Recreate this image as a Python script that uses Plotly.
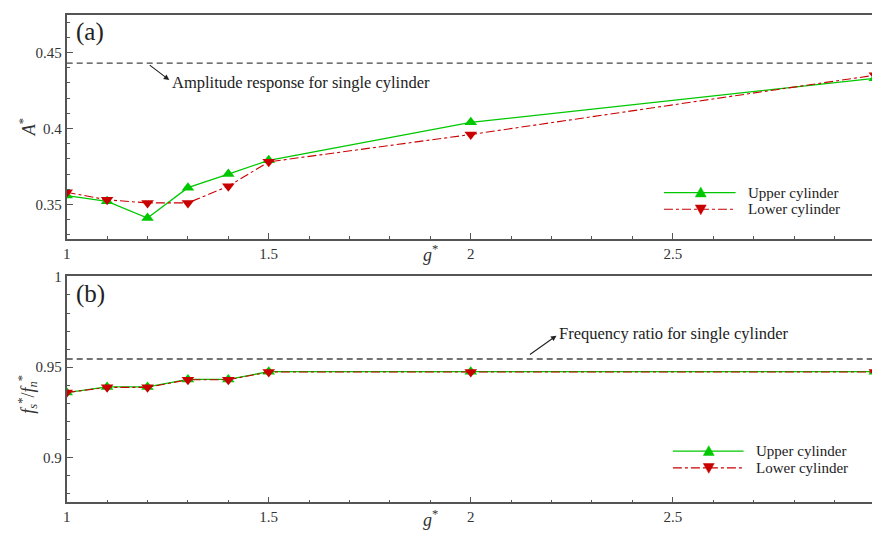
import plotly.graph_objects as go

g_star = [1.0, 1.1, 1.2, 1.3, 1.4, 1.5, 2.0, 3.0]
upper_A = [0.3558, 0.352, 0.341, 0.361, 0.370, 0.379, 0.404, 0.433]
lower_A = [0.358, 0.353, 0.351, 0.351, 0.362, 0.378, 0.396, 0.435]
upper_f = [0.9359, 0.9390, 0.9390, 0.9432, 0.9432, 0.9475, 0.9475, 0.9475]
lower_f = [0.9359, 0.9388, 0.9388, 0.9430, 0.9430, 0.9473, 0.9473, 0.9473]
single_A = 0.443
single_f = 0.9545
series_names = ["Upper cylinder", "Lower cylinder"]

FONT = "Liberation Serif"
GREEN = "rgb(0,200,0)"
RED = "rgb(200,0,0)"
AX = "#555555"

W, H = 872, 533
def px(v): return v / W
def py(v): return 1 - v / H

fig = go.Figure()

for i, (ya, yu, yl) in enumerate([("y", upper_A, lower_A), ("y2", upper_f, lower_f)]):
    xa = "x" if i == 0 else "x2"
    fig.add_trace(go.Scatter(x=g_star, y=yu, xaxis=xa, yaxis=ya, mode="lines+markers",
                             name=series_names[0], showlegend=False,
                             line=dict(color=GREEN, width=1.3),
                             marker=dict(symbol="triangle-up", size=11, color=GREEN)))
    fig.add_trace(go.Scatter(x=g_star, y=yl, xaxis=xa, yaxis=ya, mode="lines+markers",
                             name=series_names[1], showlegend=False,
                             line=dict(color=RED, width=1.1, dash="dashdot"),
                             marker=dict(symbol="triangle-down", size=11, color=RED)))

xcommon = dict(range=[1, 2.993], tickvals=[1, 1.5, 2, 2.5, 3], ticktext=["1", "1.5", "2", "2.5", "3"],
               ticks="inside", ticklen=6, tickcolor=AX, showline=True, linecolor=AX, linewidth=1.8,
               mirror=True, showgrid=False, zeroline=False,
               minor=dict(dtick=0.1, ticks="inside", ticklen=3, tickcolor=AX),
               tickfont=dict(family=FONT, size=15, color="#333"))
ycommon = dict(ticks="inside", ticklen=6, tickcolor=AX, showline=True, linecolor=AX, linewidth=1.8,
               showgrid=False, zeroline=False,
               minor=dict(dtick=0.01, ticks="inside", ticklen=3, tickcolor=AX),
               tickfont=dict(family=FONT, size=15, color="#333"))

fig.update_layout(
    width=W, height=H, margin=dict(l=0, r=0, t=0, b=0),
    plot_bgcolor="white", paper_bgcolor="white", showlegend=False,
    font=dict(family=FONT),
    xaxis=dict(domain=[px(63), 1], anchor="y", **xcommon),
    yaxis=dict(domain=[py(235), py(8)], anchor="x", range=[0.3273, 0.4747],
               tickvals=[0.35, 0.4, 0.45], ticktext=["0.35", "0.4", "0.45"], **ycommon),
    xaxis2=dict(domain=[px(63), 1], anchor="y2", **xcommon),
    yaxis2=dict(domain=[py(502), py(273)], anchor="x2", range=[0.875, 1.0003],
                tickvals=[0.9, 0.95, 1.0], ticktext=["0.9", "0.95", "1"], **ycommon),
)

fig.add_shape(type="line", xref="x", yref="y", x0=1, x1=3, y0=single_A, y1=single_A,
              line=dict(color="#444", width=1.3, dash="6px,4px"))
fig.add_shape(type="line", xref="x2", yref="y2", x0=1, x1=3, y0=single_f, y1=single_f,
              line=dict(color="#444", width=1.3, dash="6px,4px"))

ann = []

# manual legends (key line, key marker, label)
def legend_block(x0, x1, xm, xt, ys):
    styles = [(GREEN, "solid", 1.3, "up"), (RED, "dashdot", 1.1, "down")]
    for (col, dash, lw, tri), yy, name in zip(styles, ys, series_names):
        fig.add_shape(type="line", xref="paper", yref="paper", x0=px(x0), x1=px(x1),
                      y0=py(yy), y1=py(yy), line=dict(color=col, width=lw, dash=dash))
        s = 5.5
        if tri == "up":
            pts = [(xm - s, yy + s * 0.8), (xm + s, yy + s * 0.8), (xm, yy - s * 1.0)]
        else:
            pts = [(xm - s, yy - s * 0.8), (xm + s, yy - s * 0.8), (xm, yy + s * 1.0)]
        path = "M " + " L ".join(f"{px(a):.5f},{py(b):.5f}" for a, b in pts) + " Z"
        fig.add_shape(type="path", xref="paper", yref="paper", path=path,
                      fillcolor=col, line=dict(color=col, width=0.5))
        ann.append(dict(xref="paper", yref="paper", x=px(xt), y=py(yy), xanchor="left",
                        yanchor="middle", text=name, showarrow=False, borderpad=0,
                        font=dict(family=FONT, size=15, color="#222")))

legend_block(663, 735, 700, 746, [188, 205])
legend_block(672, 743, 708, 754, [450, 467])

ann.append(dict(xref="paper", yref="paper", x=px(167), y=py(77), xanchor="left", yanchor="middle",
                text="Amplitude response for single cylinder", showarrow=False,
                font=dict(family=FONT, size=16.5, color="#222")))
ann.append(dict(xref="paper", yref="paper", x=px(556), y=py(331), xanchor="left", yanchor="middle",
                text="Frequency ratio for single cylinder", showarrow=False,
                font=dict(family=FONT, size=16.5, color="#222")))
ann.append(dict(xref="paper", yref="paper", x=px(166), y=py(74), text="", showarrow=True,
                ax=-21, ay=-16, arrowhead=2, arrowsize=1, arrowwidth=1.1,
                arrowcolor="#222", standoff=0))
ann.append(dict(xref="paper", yref="paper", x=px(555), y=py(333), text="", showarrow=True,
                ax=-28, ay=20, arrowhead=2, arrowsize=1, arrowwidth=1.1,
                arrowcolor="#222", standoff=0))
ann.append(dict(xref="paper", yref="paper", x=px(70), y=py(25), xanchor="left", yanchor="middle",
                text="(a)", showarrow=False, font=dict(family=FONT, size=25, color="#222")))
ann.append(dict(xref="paper", yref="paper", x=px(70), y=py(291), xanchor="left", yanchor="middle",
                text="(b)", showarrow=False, font=dict(family=FONT, size=25, color="#222")))
ann.append(dict(xref="paper", yref="paper", x=px(24), y=py(122), xanchor="center", yanchor="middle",
                text="<i>A</i><sup>*</sup>", textangle=-90, showarrow=False,
                font=dict(family=FONT, size=18, color="#333")))
ann.append(dict(xref="paper", yref="paper", x=px(24), y=py(392), xanchor="center", yanchor="middle",
                text="<i>f</i><sub><i>s</i></sub><sup>*</sup>/<i>f</i><sub><i>n</i></sub><sup>*</sup>",
                textangle=-90, showarrow=False, font=dict(family=FONT, size=18, color="#333")))
ann.append(dict(xref="paper", yref="paper", x=px(428), y=py(250), xanchor="center", yanchor="middle",
                text="<i>g</i><sup>*</sup>", showarrow=False, font=dict(family=FONT, size=18, color="#333")))
ann.append(dict(xref="paper", yref="paper", x=px(428), y=py(518), xanchor="center", yanchor="middle",
                text="<i>g</i><sup>*</sup>", showarrow=False, font=dict(family=FONT, size=18, color="#333")))
fig.update_layout(annotations=ann)

fig.write_html("out.html")
